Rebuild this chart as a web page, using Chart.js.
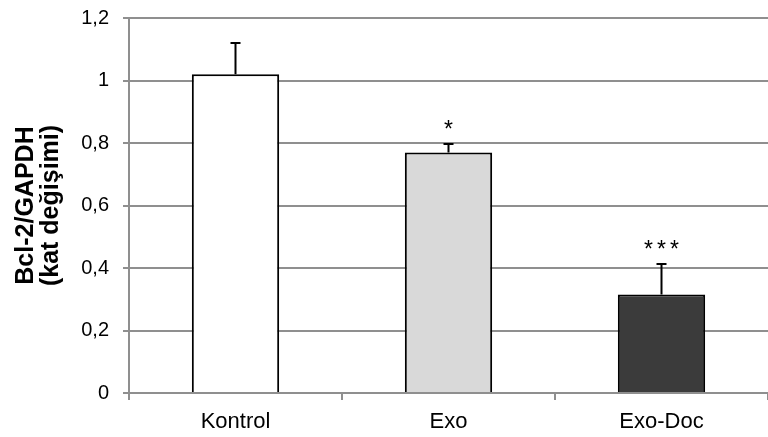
<!DOCTYPE html>
<html>
<head>
<meta charset="utf-8">
<script src="https://cdn.jsdelivr.net/npm/chart.js@4/dist/chart.umd.min.js"></script>
<style>
  html, body { margin: 0; padding: 0; background: #fff; }
  #wrap { width: 768px; height: 437px; }
</style>
</head>
<body>
<div id="wrap"><canvas id="grafico"></canvas></div>
<script>
const categories = ["Kontrol", "Exo", "Exo-Doc"];
const values = [1.02, 0.77, 0.315];
const errors = [0.10, 0.027, 0.098];
const stars = ["", "*", "***"];
const fills = ["#ffffff", "#d9d9d9", "#3b3b3b"];

const gris = "#8f8f8f";
const fuente = "'Liberation Sans', Arial, sans-serif";

// barras de error + asteriscos
const errorBars = {
  id: "errorBars",
  afterDatasetsDraw(chart) {
    const ctx = chart.ctx;
    const y = chart.scales.y;
    const meta = chart.getDatasetMeta(0);
    ctx.save();
    ctx.strokeStyle = "#000";
    ctx.lineWidth = 2;
    meta.data.forEach((bar, i) => {
      const top = y.getPixelForValue(values[i] + errors[i]);
      const base = y.getPixelForValue(values[i]);
      ctx.beginPath();
      ctx.moveTo(bar.x, base);
      ctx.lineTo(bar.x, top);
      ctx.moveTo(bar.x - 5, top);
      ctx.lineTo(bar.x + 5, top);
      ctx.stroke();

      if (stars[i]) {
        ctx.fillStyle = "#000";
        ctx.font = "23px " + fuente;
        ctx.textAlign = "center";
        ctx.textBaseline = "alphabetic";
        const paso = 13;
        const n = stars[i].length;
        for (let k = 0; k < n; k++) {
          ctx.fillText(stars[i][k], bar.x + (k - (n - 1) / 2) * paso, top - 7);
        }
      }
    });
    ctx.restore();
  }
};

new Chart(document.getElementById("grafico"), {
  type: "bar",
  data: {
    labels: categories,
    datasets: [{
      data: values,
      backgroundColor: fills,
      borderColor: "#000",
      borderWidth: 2,
      barPercentage: 0.41,
      categoryPercentage: 1
    }]
  },
  options: {
    responsive: true,
    maintainAspectRatio: false,
    animation: false,
    layout: { padding: { top: 18, right: 0, bottom: 0, left: 0 } },
    plugins: {
      legend: { display: false },
      tooltip: { enabled: false }
    },
    scales: {
      x: {
        grid: {
          offset: true,
          drawOnChartArea: false,
          drawTicks: true,
          tickLength: 7,
          color: gris,
          lineWidth: 2
        },
        border: { display: true, color: gris, width: 2 },
        ticks: { color: "#000", font: { family: fuente, size: 22 }, padding: 9 },
        afterFit: s => { s.height = 44; s.paddingLeft = 0; s.paddingRight = 0; }
      },
      y: {
        min: 0,
        max: 1.2,
        ticks: {
          stepSize: 0.2,
          color: "#000",
          padding: 14,
          font: { family: fuente, size: 20 },
          callback: v => String(Math.round(v * 10) / 10).replace(".", ",")
        },
        grid: { color: gris, lineWidth: 2, tickLength: 6 },
        border: { display: true, color: gris, width: 2 },
        title: {
          display: true,
          text: ["Bcl-2/GAPDH", "(kat değişimi)"],
          color: "#000",
          font: { family: fuente, size: 25, weight: "bold", lineHeight: 1 },
          padding: { top: 14, bottom: 0 }
        },
        afterFit: s => { s.width = 129; s.paddingTop = 0; s.paddingBottom = 0; }
      }
    }
  },
  plugins: [errorBars]
});
</script>
</body>
</html>
